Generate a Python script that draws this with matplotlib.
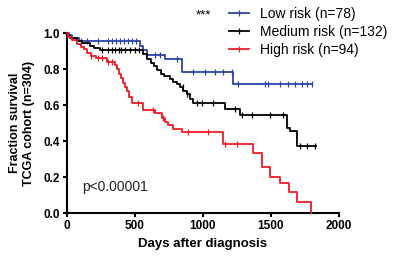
import numpy as np
import matplotlib
matplotlib.use("Agg")
import matplotlib.pyplot as plt
from matplotlib.lines import Line2D

plt.rcParams['font.family'] = ['Liberation Sans', 'DejaVu Sans']

# Kaplan-Meier step data (time in days, survival after each drop)
low_t = [0, 15, 40, 90, 540, 560, 590, 720, 845, 1220, 1800]
low_s = [1.0, 0.987, 0.974, 0.955, 0.93, 0.905, 0.88, 0.855, 0.785, 0.717, 0.717]
low_cens = [100, 150, 230, 300, 330, 360, 390, 420, 450, 480, 510, 647, 684, 809, 926,
            1015, 1088, 1147, 1213, 1257, 1456, 1478, 1566, 1625, 1676, 1728, 1765, 1801]

med_t = [0, 8, 25, 73, 110, 170, 200, 243, 560, 588, 615, 640, 662, 690, 715, 757, 780,
         809, 830, 855, 882, 904, 930, 1160, 1270, 1615, 1640, 1690, 1830]
med_s = [1.0, 0.985, 0.97, 0.955, 0.945, 0.93, 0.915, 0.905, 0.885, 0.855, 0.835, 0.815,
         0.795, 0.775, 0.76, 0.745, 0.73, 0.715, 0.70, 0.68, 0.66, 0.635, 0.61, 0.58,
         0.545, 0.47, 0.455, 0.375, 0.375]
med_cens = [260, 300, 330, 350, 380, 400, 430, 460, 500, 530, 853, 882, 956, 993, 1074,
            1235, 1287, 1360, 1493, 1588, 1713, 1765, 1823]

high_t = [0, 10, 35, 73, 100, 125, 147, 175, 210, 294, 353, 368, 382, 397, 412, 426, 441,
          455, 475, 560, 647, 698, 720, 743, 779, 846, 1147, 1368, 1434, 1493, 1566, 1632,
          1691, 1794]
high_s = [1.0, 0.98, 0.96, 0.94, 0.925, 0.91, 0.89, 0.87, 0.86, 0.84, 0.82, 0.80, 0.775,
          0.75, 0.725, 0.70, 0.675, 0.645, 0.61, 0.575, 0.555, 0.53, 0.505, 0.49, 0.465,
          0.45, 0.385, 0.335, 0.255, 0.20, 0.165, 0.115, 0.06, 0.0]
high_cens = [180, 230, 260, 300, 330, 522, 632, 706, 890, 1037, 1162, 1250]

labels = ['Low risk (n=78)', 'Medium risk (n=132)', 'High risk (n=94)']
colors = ['#2b44a8', '#000000', '#ee1c24']

fig = plt.figure(figsize=(4, 2.58), dpi=100)
ax = fig.add_axes([67/400, 45/258, 272/400, 180/258])

series = [(low_t, low_s, low_cens), (med_t, med_s, med_cens), (high_t, high_s, high_cens)]
for (t, s, c), col in zip(series, colors):
    ax.step(t, s, where='post', color=col, lw=1.3, clip_on=False, zorder=3)
    idx = np.searchsorted(t, c, side='right') - 1
    ax.plot(c, np.array(s)[idx], ls='none', marker='|', ms=4, mew=0.9,
            color=col, clip_on=False, zorder=3)

ax.set_xlim(0, 2000)
ax.set_ylim(0, 1.0)
ax.set_xticks([0, 500, 1000, 1500, 2000])
ax.set_yticks([0.0, 0.2, 0.4, 0.6, 0.8, 1.0])
ax.set_yticklabels(['0.0', '0.2', '0.4', '0.6', '0.8', '1.0'])
for sp in ['top', 'right']:
    ax.spines[sp].set_visible(False)
for sp in ['left', 'bottom']:
    ax.spines[sp].set_linewidth(1.5)
ax.tick_params(width=1.5, length=3, labelsize=8.5, pad=2)
for lab in ax.get_xticklabels() + ax.get_yticklabels():
    lab.set_fontweight('bold')

ax.set_xlabel('Days after diagnosis', fontsize=9.5, fontweight='bold', labelpad=4)
ax.set_ylabel('Fraction survival\nTCGA cohort (n=304)', fontsize=9, fontweight='bold',
              linespacing=1.25, labelpad=6)

ax.text(110, 0.144, 'p<0.00001', fontsize=10, color='#222222', va='center')

handles = [Line2D([], [], color=col, lw=1.3, marker='|', ms=4, mew=0.9) for col in colors]
fig.legend(handles, labels, loc='upper left', bbox_to_anchor=(226/400, 1 - 4/258),
           frameon=False, fontsize=10, handlelength=1.45, handletextpad=0.8,
           labelspacing=0.28, borderaxespad=0, borderpad=0.2, markerscale=1)
fig.text(196/400, 1 - 15/258, '***', fontsize=9.5, va='center', ha='left')

fig.savefig('out.png', dpi=100)
